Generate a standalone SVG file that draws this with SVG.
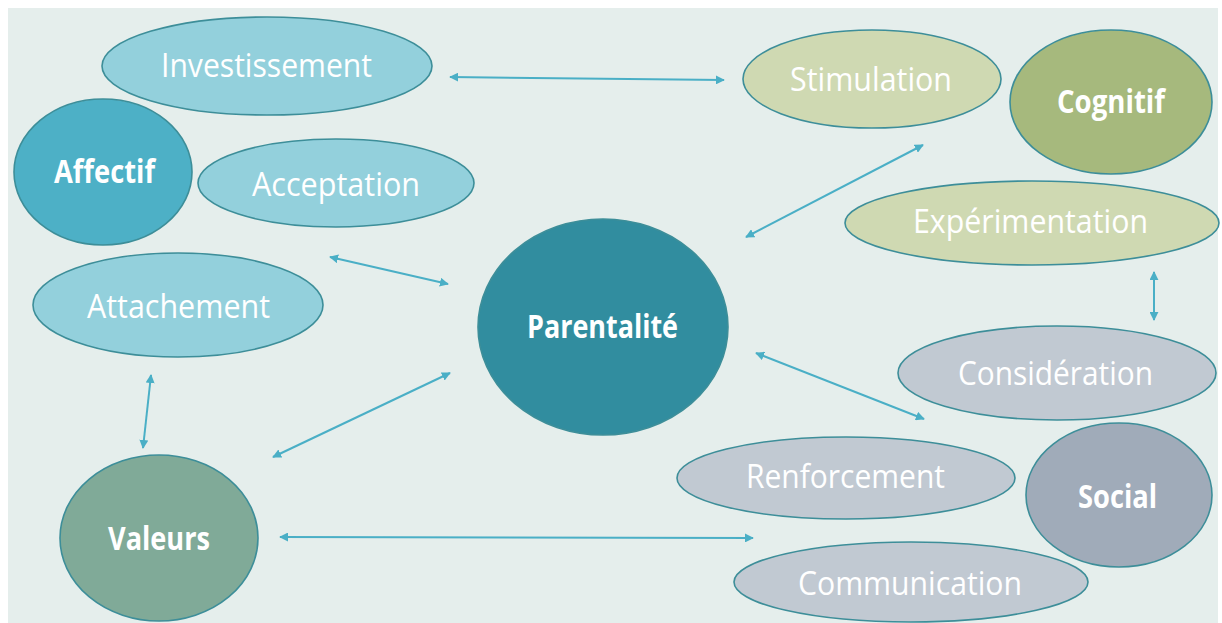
<svg xmlns="http://www.w3.org/2000/svg" width="1222" height="623" viewBox="0 0 1222 623">
<style>
.n{stroke:#3d8e99;stroke-width:1.6}
.t{font-family:"Open Sans","Noto Sans",sans-serif;fill:#ffffff;text-anchor:start}
.l{font-size:33px;font-weight:400}
.b{font-size:33px;font-weight:700}
.c{stroke:#4aafc6;stroke-width:2;fill:none;marker-start:url(#ah);marker-end:url(#ah)}
</style>
<defs>
<marker id="ah" viewBox="0 0 10 10" refX="9" refY="5" markerWidth="4.5" markerHeight="4.5" markerUnits="strokeWidth" orient="auto-start-reverse">
<path d="M0,0 L10,5 L0,10 Z" fill="#4aafc6"/>
</marker>
</defs>
<rect x="0" y="0" width="1222" height="623" fill="#ffffff"/>
<rect x="8" y="8" width="1210" height="615" fill="#e5eeec"/>

<g id="connectors">
<line class="c" x1="450" y1="77" x2="724" y2="80"/>
<line class="c" x1="923" y1="145" x2="746" y2="237"/>
<line class="c" x1="1154" y1="272" x2="1154" y2="320"/>
<line class="c" x1="756" y1="353" x2="924" y2="419"/>
<line class="c" x1="280" y1="537" x2="753" y2="538"/>
<line class="c" x1="151" y1="375" x2="143" y2="448"/>
<line class="c" x1="273" y1="457" x2="450" y2="373"/>
<line class="c" x1="330" y1="257" x2="448" y2="284"/>
</g>

<g id="investissement">
<ellipse class="n" cx="267" cy="66" rx="165" ry="49" fill="#93d0dc"/>
<text class="t l" x="161" y="77" textLength="211" lengthAdjust="spacingAndGlyphs">Investissement</text>
</g>
<g id="affectif">
<ellipse class="n" cx="103" cy="172" rx="89" ry="73" fill="#4db0c6"/>
<text class="t b" x="54" y="183" textLength="101" lengthAdjust="spacingAndGlyphs">Affectif</text>
</g>
<g id="acceptation">
<ellipse class="n" cx="336" cy="183" rx="138" ry="44" fill="#93d0dc"/>
<text class="t l" x="252" y="196" textLength="168" lengthAdjust="spacingAndGlyphs">Acceptation</text>
</g>
<g id="attachement">
<ellipse class="n" cx="178" cy="305" rx="145" ry="52" fill="#93d0dc"/>
<text class="t l" x="87" y="318" textLength="183" lengthAdjust="spacingAndGlyphs">Attachement</text>
</g>
<g id="valeurs">
<ellipse class="n" cx="159" cy="538" rx="99" ry="83" fill="#80aa98"/>
<text class="t b" x="108" y="550" textLength="102" lengthAdjust="spacingAndGlyphs">Valeurs</text>
</g>
<g id="parentalite">
<ellipse class="n" cx="603" cy="327" rx="125" ry="108" fill="#318d9f"/>
<text class="t b" x="527" y="338" textLength="151" lengthAdjust="spacingAndGlyphs">Parentalité</text>
</g>
<g id="stimulation">
<ellipse class="n" cx="872" cy="79" rx="129" ry="49" fill="#cfd9b2"/>
<text class="t l" x="790" y="91" textLength="162" lengthAdjust="spacingAndGlyphs">Stimulation</text>
</g>
<g id="cognitif">
<ellipse class="n" cx="1111" cy="102" rx="101" ry="72" fill="#a6b97d"/>
<text class="t b" x="1057" y="113" textLength="108" lengthAdjust="spacingAndGlyphs">Cognitif</text>
</g>
<g id="experimentation">
<ellipse class="n" cx="1032" cy="223" rx="187" ry="42" fill="#cfd9b2"/>
<text class="t l" x="913" y="233" textLength="235" lengthAdjust="spacingAndGlyphs">Expérimentation</text>
</g>
<g id="consideration">
<ellipse class="n" cx="1057" cy="373" rx="159" ry="47" fill="#c1c9d2"/>
<text class="t l" x="958" y="385" textLength="195" lengthAdjust="spacingAndGlyphs">Considération</text>
</g>
<g id="renforcement">
<ellipse class="n" cx="846" cy="478" rx="169" ry="41" fill="#c1c9d2"/>
<text class="t l" x="746" y="488" textLength="199" lengthAdjust="spacingAndGlyphs">Renforcement</text>
</g>
<g id="social">
<ellipse class="n" cx="1119" cy="495" rx="93" ry="72" fill="#a0abb9"/>
<text class="t b" x="1078" y="508" textLength="79" lengthAdjust="spacingAndGlyphs">Social</text>
</g>
<g id="communication">
<ellipse class="n" cx="911" cy="582" rx="177" ry="40" fill="#c1c9d2"/>
<text class="t l" x="798" y="595" textLength="224" lengthAdjust="spacingAndGlyphs">Communication</text>
</g>
</svg>
